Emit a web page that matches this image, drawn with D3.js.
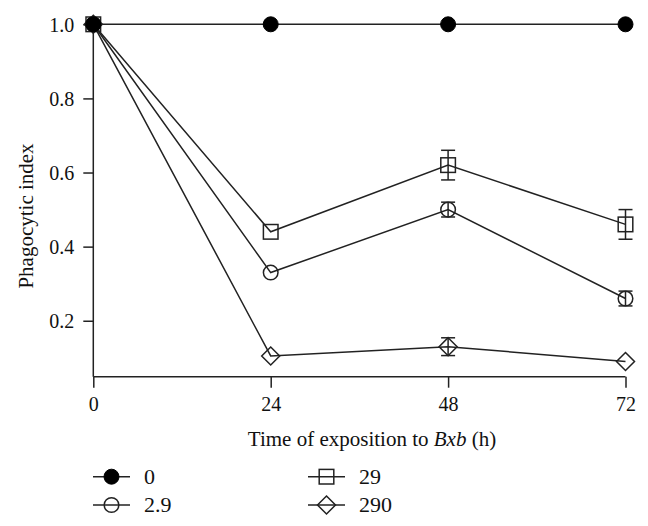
<!DOCTYPE html>
<html>
<head>
<meta charset="utf-8">
<script src="https://cdn.jsdelivr.net/npm/d3@7"></script>
<style>
body { margin: 0; background: #fff; }
text { font-family: "Liberation Serif", "DejaVu Serif", serif; fill: #111; }
</style>
</head>
<body>
<script>
var width = 648, height = 526;

// data
var hours = [0, 24, 48, 72];
var yTicks = [0.2, 0.4, 0.6, 0.8, 1.0];
var seriesNames = ["0", "2.9", "29", "290"];
var seriesShapes = ["filled", "circle", "square", "diamond"];
var v0 = [1.0, 1.0, 1.0, 1.0];
var v29a = [1.0, 0.33, 0.50, 0.26];
var v29 = [1.0, 0.44, 0.62, 0.46];
var v290 = [1.0, 0.105, 0.13, 0.09];
var e0 = [0, 0, 0, 0];
var e29a = [0, 0, 0.02, 0.02];
var e29 = [0, 0, 0.04, 0.04];
var e290 = [0, 0, 0.024, 0];

var allValues = [v0, v29a, v29, v290];
var allErrors = [e0, e29a, e29, e290];

var svg = d3.select("body").append("svg")
  .attr("width", width)
  .attr("height", height);

var x = d3.scaleLinear().domain([0, 72]).range([93.3, 625.5]);
var y = d3.scaleLinear().domain([0.049, 1.0]).range([376.7, 24.3]);

var ink = "#222";

// y axis
var yAxis = d3.axisLeft(y).tickValues(yTicks).tickFormat(d3.format(".1f")).tickSize(10).tickPadding(9);
var gy = svg.append("g").attr("transform", "translate(93.3,0)").call(yAxis);
gy.select(".domain").attr("d", "M0," + y(1.0) + "V" + y.range()[0]).attr("stroke", ink).attr("stroke-width", 1.5);
gy.selectAll(".tick line").attr("stroke", ink).attr("stroke-width", 1.5);
gy.selectAll(".tick text").attr("font-size", 20).attr("dy", "0.34em").style("font-family", "Liberation Serif, serif").attr("fill", "#111");

// x axis
var xAxis = d3.axisBottom(x).tickValues(hours).tickSize(11).tickPadding(9);
var gx = svg.append("g").attr("transform", "translate(0,376.7)").call(xAxis);
gx.select(".domain").attr("d", "M" + x.range()[0] + ",0H" + x.range()[1]).attr("stroke", ink).attr("stroke-width", 1.5);
gx.selectAll(".tick line").attr("stroke", ink).attr("stroke-width", 1.5);
gx.selectAll(".tick text").attr("font-size", 20).style("font-family", "Liberation Serif, serif").attr("fill", "#111");

// axis titles
var xt = svg.append("text")
  .attr("x", 372)
  .attr("y", 446)
  .attr("text-anchor", "middle")
  .attr("font-size", 21);
xt.append("tspan").text("Time of exposition to ");
xt.append("tspan").attr("font-style", "italic").text("Bxb");
xt.append("tspan").text(" (h)");

svg.append("text")
  .attr("transform", "translate(33,216) rotate(-90)")
  .attr("text-anchor", "middle")
  .attr("font-size", 21)
  .text("Phagocytic index");

// marker drawing
function drawMarker(g, shape, cx, cy) {
  if (shape == "filled") {
    g.append("circle").attr("cx", cx).attr("cy", cy).attr("r", 7.5)
      .attr("fill", "#000").attr("stroke", "#000");
  } else if (shape == "circle") {
    g.append("circle").attr("cx", cx).attr("cy", cy).attr("r", 7.3)
      .attr("fill", "none").attr("stroke", ink).attr("stroke-width", 1.5);
  } else if (shape == "square") {
    g.append("rect").attr("x", cx - 7.3).attr("y", cy - 7.3).attr("width", 14.6).attr("height", 14.6)
      .attr("fill", "none").attr("stroke", ink).attr("stroke-width", 1.5);
  } else {
    var s = 9;
    g.append("path").attr("d", "M" + cx + "," + (cy - s) + "L" + (cx + s) + "," + cy + "L" + cx + "," + (cy + s) + "L" + (cx - s) + "," + cy + "Z")
      .attr("fill", "none").attr("stroke", ink).attr("stroke-width", 1.5);
  }
}

var line = d3.line()
  .x(function(d) { return x(d.h); })
  .y(function(d) { return y(d.v); });

// draw series back to front so the filled one sits on top
[3, 2, 1, 0].forEach(function(i) {
  var pts = hours.map(function(h, j) { return {h: h, v: allValues[i][j], e: allErrors[i][j]}; });
  var g = svg.append("g");
  g.append("path").datum(pts).attr("d", line)
    .attr("fill", "none").attr("stroke", ink).attr("stroke-width", 1.5);

  pts.forEach(function(p) {
    if (p.e > 0) {
      var xx = x(p.h);
      g.append("line").attr("x1", xx).attr("x2", xx).attr("y1", y(p.v + p.e)).attr("y2", y(p.v - p.e))
        .attr("stroke", ink).attr("stroke-width", 1.5);
      [p.v + p.e, p.v - p.e].forEach(function(ev) {
        g.append("line").attr("x1", xx - 7).attr("x2", xx + 7).attr("y1", y(ev)).attr("y2", y(ev))
          .attr("stroke", ink).attr("stroke-width", 1.5);
      });
    }
    drawMarker(g, seriesShapes[i], x(p.h), y(p.v));
  });
});

// legend
var legendPos = [[93, 476.7], [93, 505], [308, 476.7], [308, 505]];
seriesNames.forEach(function(name, i) {
  var lx = legendPos[i][0], ly = legendPos[i][1];
  var g = svg.append("g");
  g.append("line").attr("x1", lx).attr("x2", lx + 37).attr("y1", ly).attr("y2", ly)
    .attr("stroke", ink).attr("stroke-width", 1.5);
  drawMarker(g, seriesShapes[i], lx + 18.5, ly);
  g.append("text").attr("x", lx + 51).attr("y", ly + 7).attr("font-size", 22).text(name);
});
</script>
</body>
</html>
